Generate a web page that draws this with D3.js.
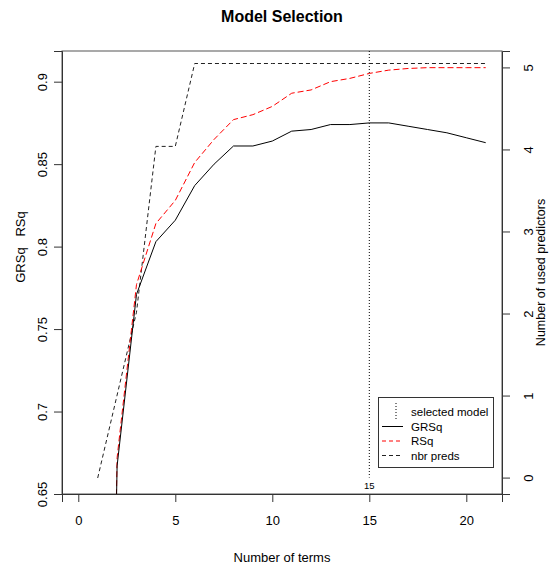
<!DOCTYPE html>
<html>
<head>
<meta charset="utf-8">
<script src="https://cdn.jsdelivr.net/npm/d3@7"></script>
<style>
  body { margin: 0; background: #fff; }
  svg { display: block; font-family: "Liberation Sans", Arial, sans-serif; }
</style>
</head>
<body>
<svg id="chart" width="554" height="570"></svg>
<script>
// ---- data ----
const terms = [1,2,3,4,5,6,7,8,9,10,11,12,13,14,15,16,17,18,19,20,21];
const grsq  = [0,0.667,0.771,0.803,0.816,0.837,0.850,0.861,0.861,0.864,0.870,0.871,0.874,0.874,0.875,0.875,0.873,0.871,0.869,0.866,0.863];
const rsq   = [0,0.672,0.777,0.814,0.828,0.851,0.865,0.877,0.880,0.885,0.893,0.895,0.900,0.902,0.905,0.907,0.908,0.9085,0.9085,0.9085,0.9085];
const nbrPreds = [0,1,2,4,4,5,5,5,5,5,5,5,5,5,5,5,5,5,5,5,5];
const selectedModel = 15;
const xTicks = [0,5,10,15,20];
const yLeftTicks = [0.65,0.7,0.75,0.8,0.85,0.9];
const yRightTicks = [0,1,2,3,4,5];
const legendLabels = ["selected model","GRSq","RSq","nbr preds"];

// ---- layout ----
const L = 62, R = 502, T = 51, B = 494;
const svg = d3.select("#chart");
const FONT = "Liberation Sans, Arial, sans-serif";

const x = d3.scaleLinear().domain([-0.84, 21.84]).range([L, R]);
const yL = d3.scaleLinear().domain([0.65, 0.9186]).range([B, T]);
const yR = d3.scaleLinear().domain([-0.2, 5.2]).range([B, T]);      // right axis ticks
const yPreds = d3.scaleLinear().domain([0, 5]).range([478, 63.5]);  // nbr preds curve

svg.append("defs").append("clipPath").attr("id","clip")
  .append("rect").attr("x",L).attr("y",T).attr("width",R-L).attr("height",B-T);

// title
svg.append("text").attr("x",(L+R)/2).attr("y",22).attr("text-anchor","middle")
  .attr("font-size",16).attr("font-weight","bold").attr("fill","#000").text("Model Selection");

// box
svg.append("rect").attr("x",L).attr("y",T).attr("width",R-L).attr("height",B-T)
  .attr("fill","none").attr("stroke","#555").attr("stroke-width",1);

// bottom axis
const gx = svg.append("g").attr("transform",`translate(0,${B})`)
  .call(d3.axisBottom(x).tickValues(xTicks).tickSize(8).tickPadding(14).tickFormat(d3.format("d")));
gx.select(".domain").attr("stroke","#333");
gx.selectAll(".tick line").attr("stroke","#333");
gx.selectAll("text").attr("font-size",13).attr("fill","#000").attr("font-family",FONT);

// left axis
const gl = svg.append("g").attr("transform",`translate(${L},0)`)
  .call(d3.axisLeft(yL).tickValues(yLeftTicks).tickSize(8).tickFormat(d => String(+d.toFixed(2))));
gl.select(".domain").attr("stroke","#333");
gl.selectAll(".tick line").attr("stroke","#333");
gl.selectAll("text").attr("font-size",13).attr("fill","#000").attr("font-family",FONT)
  .attr("x",0).attr("dy","0.35em").attr("text-anchor","middle").attr("transform","translate(-20,0) rotate(-90)");

// right axis
const gr = svg.append("g").attr("transform",`translate(${R},0)`)
  .call(d3.axisRight(yR).tickValues(yRightTicks).tickSize(8).tickFormat(d3.format("d")));
gr.select(".domain").attr("stroke","#333");
gr.selectAll(".tick line").attr("stroke","#333");
gr.selectAll("text").attr("font-size",13).attr("fill","#000").attr("font-family",FONT)
  .attr("x",0).attr("dy","0.35em").attr("text-anchor","middle").attr("transform","translate(26,0) rotate(-90)");

// axis titles
svg.append("text").attr("x",(L+R)/2).attr("y",562).attr("text-anchor","middle")
  .attr("font-size",13).attr("fill","#000").text("Number of terms");
svg.append("text").attr("transform",`translate(25,247) rotate(-90)`).attr("text-anchor","middle")
  .attr("font-size",13).attr("fill","#000").attr("xml:space","preserve").text("GRSq   RSq");
svg.append("text").attr("transform",`translate(545,${(T+B)/2}) rotate(-90)`).attr("text-anchor","middle")
  .attr("font-size",12.5).attr("fill","#000").text("Number of used predictors");

// lines
const plot = svg.append("g").attr("clip-path","url(#clip)");
const lineL = d3.line().x((d,i) => x(terms[i])).y(d => yL(d));
const lineP = d3.line().x((d,i) => x(terms[i])).y(d => yPreds(d));

// selected model
plot.append("line").attr("x1",x(selectedModel)).attr("x2",x(selectedModel))
  .attr("y1",T).attr("y2",yR(0))
  .attr("stroke","#000").attr("stroke-width",1).attr("stroke-dasharray","1,2");
svg.append("text").attr("x",x(selectedModel)).attr("y",489).attr("text-anchor","middle")
  .attr("font-size",9.5).attr("fill","#000").text(String(selectedModel));

plot.append("path").datum(nbrPreds).attr("d",lineP).attr("fill","none")
  .attr("stroke","#222").attr("stroke-width",1).attr("stroke-dasharray","4,3");
plot.append("path").datum(rsq).attr("d",lineL).attr("fill","none")
  .attr("stroke","#ff0000").attr("stroke-width",1).attr("stroke-dasharray","6,3");
plot.append("path").datum(grsq).attr("d",lineL).attr("fill","none")
  .attr("stroke","#000").attr("stroke-width",1);

// legend
const lg = svg.append("g");
lg.append("rect").attr("x",378.5).attr("y",397.5).attr("width",115).attr("height",70)
  .attr("fill","#fff").attr("stroke","#333");
const ly = [412, 426.5, 441, 455.5];
lg.append("line").attr("x1",396).attr("x2",396).attr("y1",403).attr("y2",421)
  .attr("stroke","#000").attr("stroke-dasharray","1,2");
lg.append("line").attr("x1",382).attr("x2",403).attr("y1",ly[1]).attr("y2",ly[1]).attr("stroke","#000");
lg.append("line").attr("x1",382).attr("x2",403).attr("y1",ly[2]).attr("y2",ly[2]).attr("stroke","#ff0000").attr("stroke-dasharray","4,3");
lg.append("line").attr("x1",382).attr("x2",403).attr("y1",ly[3]).attr("y2",ly[3]).attr("stroke","#222").attr("stroke-dasharray","4,3");
lg.selectAll("text.lbl").data(legendLabels).enter().append("text").attr("class","lbl")
  .attr("x",411).attr("y",(d,i) => ly[i]).attr("dy","0.35em")
  .attr("font-size",11.5).attr("fill","#000").text(d => d);
</script>
</body>
</html>
